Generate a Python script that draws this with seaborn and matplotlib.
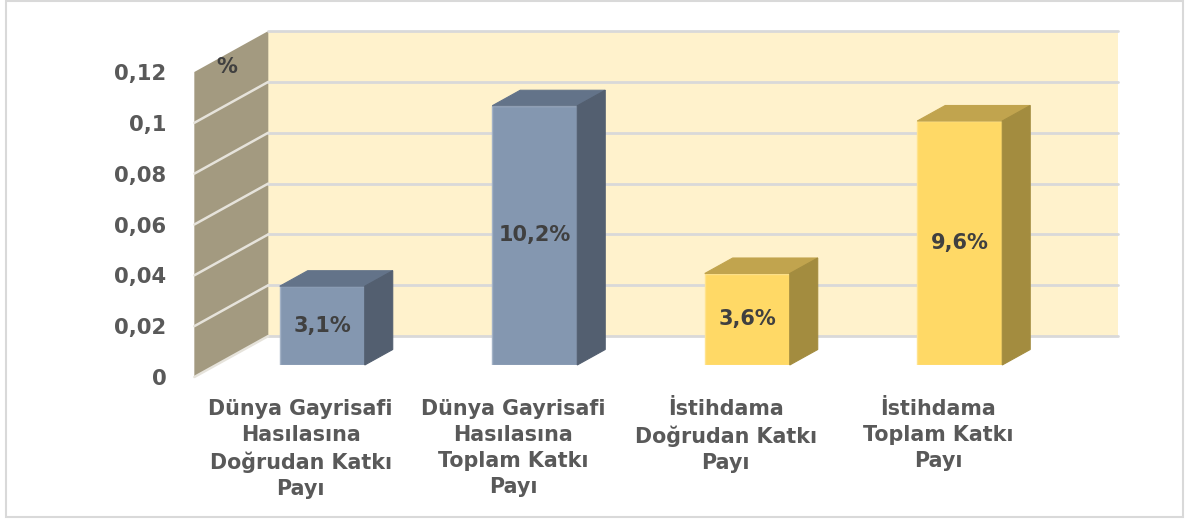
import matplotlib
matplotlib.use("Agg")
import matplotlib.pyplot as plt
import seaborn as sns
import numpy as np
import pandas as pd
from matplotlib.patches import Polygon, Rectangle
from matplotlib.transforms import IdentityTransform, ScaledTranslation
from matplotlib.lines import Line2D

# ---- data ----
categories = [
    "Dünya Gayrisafi\nHasılasına\nDoğrudan Katkı\nPayı",
    "Dünya Gayrisafi\nHasılasına\nToplam Katkı\nPayı",
    "İstihdama\nDoğrudan Katkı\nPayı",
    "İstihdama\nToplam Katkı\nPayı",
]
values = [0.031, 0.102, 0.036, 0.096]
value_labels = ["3,1%", "10,2%", "3,6%", "9,6%"]
y_ticks = [0, 0.02, 0.04, 0.06, 0.08, 0.10, 0.12]
y_tick_labels = ["0", "0,02", "0,04", "0,06", "0,08", "0,1", "0,12"]
unit_label = "%"

front_colors = ["#8497B0", "#8497B0", "#FFD966", "#FFD966"]
edge_colors = ["#A3B2C6", "#A3B2C6", "#FFE38C", "#FFE38C"]
top_colors = ["#637389", "#637389", "#C1A44E", "#C1A44E"]
side_colors = ["#535F70", "#535F70", "#A38C3F", "#A38C3F"]
back_wall_color = "#FFF2CC"
side_wall_color = "#A39A80"
grid_color = "#D9D9D9"
side_grid_color = "#E6E3DB"
text_gray = "#595959"
text_dark = "#404040"

sns.set_style("white")
plt.rcParams["font.family"] = ["DejaVu Sans"]

W, H = 1185, 519
fig = plt.figure(figsize=(W / 100, H / 100), dpi=100)

DEPTH = np.array([74.0, 41.0])   # pixel vector from front plane to back wall
ZF = 0.293                        # depth of bar front faces
BD = 0.378                        # bar depth

ax_left, ax_bottom, ax_w, ax_h = 216, 154, 850, 305
ax = fig.add_axes([ax_left / W, ax_bottom / H, ax_w / W, ax_h / H])
foff = -ZF * DEPTH
axf = fig.add_axes([(ax_left + foff[0]) / W, (ax_bottom + foff[1]) / H, ax_w / W, ax_h / H])

df = pd.DataFrame({"cat": categories, "val": values})
sns.barplot(data=df, x="cat", y="val", hue="cat", palette=front_colors,
            width=0.4, saturation=1, ax=ax, legend=False, zorder=3)
bars = list(ax.patches)
for p, ec in zip(bars, edge_colors):
    p.set_edgecolor(ec)
    p.set_linewidth(1.0)

ax.set_xlim(-0.5, 3.5)
ax.set_ylim(0, 0.12)
ax.set_facecolor("none")
ax.set_xticks([])
ax.set_yticks([])
ax.set_xlabel("")
ax.set_ylabel("")
for s in ax.spines.values():
    s.set_visible(False)

def proj(x, y, z):
    return ax.transData.transform((x, y)) + (z - ZF) * DEPTH

ident = IdentityTransform()
x0, x1 = -0.5, 3.5
ymax = 0.12

# back wall
bw = Polygon([proj(x0, 0, 1), proj(x1, 0, 1), proj(x1, ymax, 1), proj(x0, ymax, 1)],
             closed=True, facecolor=back_wall_color, edgecolor="none",
             transform=ident, clip_on=False, zorder=0)
ax.add_patch(bw)
for v in y_ticks:
    a, b = proj(x0, v, 1), proj(x1, v, 1)
    ax.add_line(Line2D([a[0], b[0]], [a[1], b[1]], color=grid_color, lw=2,
                       transform=ident, clip_on=False, zorder=0.5))

# side wall
sw = Polygon([proj(x0, 0, 0), proj(x0, ymax, 0), proj(x0, ymax, 1), proj(x0, 0, 1)],
             closed=True, facecolor=side_wall_color, edgecolor="none",
             transform=ident, clip_on=False, zorder=0)
ax.add_patch(sw)
for v in y_ticks[:-1]:
    a, b = proj(x0, v, 0), proj(x0, v, 1)
    ax.add_line(Line2D([a[0], b[0]], [a[1], b[1]], color=side_grid_color, lw=1.8,
                       transform=ident, clip_on=False, zorder=0.5))

# 3D faces of bars
for p, tc, sc in zip(bars, top_colors, side_colors):
    bx0 = p.get_x()
    bx1 = bx0 + p.get_width()
    h = p.get_height()
    top = Polygon([proj(bx0, h, ZF), proj(bx1, h, ZF), proj(bx1, h, ZF + BD), proj(bx0, h, ZF + BD)],
                  closed=True, facecolor=tc, edgecolor=tc, lw=0.8,
                  transform=ident, clip_on=False, zorder=3)
    side = Polygon([proj(bx1, 0, ZF), proj(bx1, h, ZF), proj(bx1, h, ZF + BD), proj(bx1, 0, ZF + BD)],
                   closed=True, facecolor=sc, edgecolor=sc, lw=0.8,
                   transform=ident, clip_on=False, zorder=3)
    ax.add_patch(top)
    ax.add_patch(side)

# data labels
for i, cont in enumerate(ax.containers):
    ax.bar_label(cont, labels=[value_labels[i]], label_type="center",
                 fontsize=15, fontweight="bold", color=text_dark, zorder=5)

# front plane axes for tick labels
axf.set_xlim(-0.5, 3.5)
axf.set_ylim(0, 0.12)
axf.set_facecolor("none")
for s in axf.spines.values():
    s.set_visible(False)
axf.set_yticks(y_ticks, y_tick_labels, fontsize=15.2, fontweight="bold", color=text_gray)
axf.set_xticks(range(len(categories)), categories, fontsize=14.9, fontweight="bold",
               color=text_gray, linespacing=1.38)
axf.tick_params(axis="y", length=0, pad=20)
axf.tick_params(axis="x", length=0, pad=15.5)
axf.text(0, 1, unit_label, transform=axf.transAxes + ScaledTranslation(0.32, 0.05, fig.dpi_scale_trans),
         ha="center", va="center", fontsize=15, fontweight="bold", color=text_dark)

# chart border
fig.add_artist(Rectangle((6 / W, 2 / H), 1177 / W, 516 / H, transform=fig.transFigure,
                         fill=False, edgecolor="#D9D9D9", lw=1.5))

fig.savefig("out.png", dpi=100)
